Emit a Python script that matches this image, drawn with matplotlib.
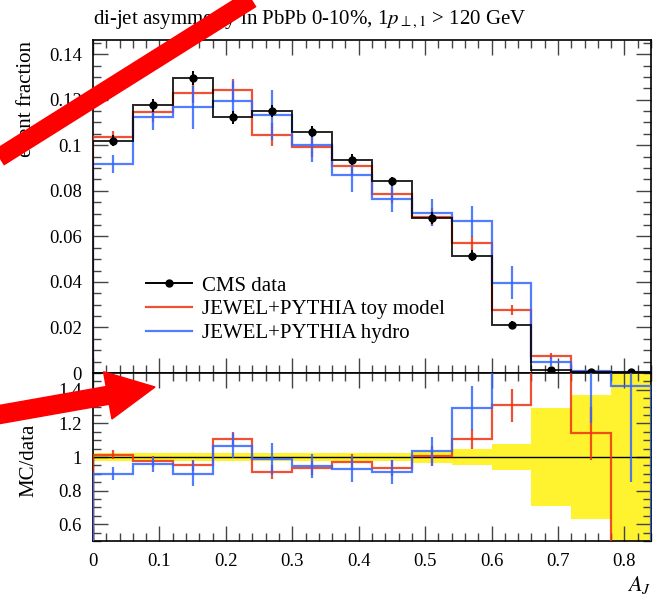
import numpy as np
import matplotlib
matplotlib.use("Agg")
import matplotlib.pyplot as plt
from matplotlib.ticker import MultipleLocator, FuncFormatter
from matplotlib.lines import Line2D
from matplotlib.patches import Polygon

# ---------------- data ----------------
bin_edges = [0.00, 0.06, 0.12, 0.18, 0.24, 0.30, 0.36, 0.42, 0.48, 0.54, 0.60, 0.66, 0.72, 0.78, 0.84]
data_vals = [0.1020, 0.1175, 0.1295, 0.1122, 0.1150, 0.1060, 0.0937, 0.0842, 0.0680, 0.0515, 0.0212, 0.0013, 0.0005, 0.0004]
data_errs = [0.0025, 0.0028, 0.0031, 0.0027, 0.0028, 0.0025, 0.0023, 0.0020, 0.0026, 0.0025, 0.0016, 0.00038, 0.000185, 0.00028]
toy_vals = [0.1034, 0.1144, 0.1230, 0.1241, 0.1047, 0.0992, 0.0909, 0.0788, 0.0684, 0.0570, 0.0277, 0.0075, 0.00057, 0.0]
toy_errs = [0.0027, 0.0040, 0.0045, 0.0050, 0.0050, 0.0045, 0.0042, 0.0040, 0.0040, 0.0031, 0.0021, 0.0015, 0.00008, 0.0]
hydro_vals = [0.0918, 0.1123, 0.1166, 0.1196, 0.1134, 0.1003, 0.0868, 0.0766, 0.0703, 0.0666, 0.0396, 0.0050, 0.0010, 0.00057]
hydro_errs = [0.0040, 0.0055, 0.0095, 0.0084, 0.0110, 0.0076, 0.0073, 0.0059, 0.0059, 0.0067, 0.0072, 0.0020, 0.0004, 0.00023]

labels = ["CMS data", "JEWEL+PYTHIA toy model", "JEWEL+PYTHIA hydro"]
title = r"di-jet asymmetry in PbPb 0-10%, 1$p_{\perp,1}$ > 120 GeV"
ylabel_main = "event fraction"
ylabel_ratio = "MC/data"
xlabel = r"$A_J$"

# ---------------- style ----------------
W, H = 666, 599
DPI = 100
RED = "#EE3311"
BLUE = "#3366FF"
YELLOW = "#FFF22E"
plt.rcParams["font.family"] = ["Liberation Serif", "DejaVu Serif"]
plt.rcParams["mathtext.fontset"] = "stix"
FS = 15
TFS = 13.5

edges = np.array(bin_edges)
centers = 0.5 * (edges[:-1] + edges[1:])
d = np.array(data_vals); de = np.array(data_errs)
t = np.array(toy_vals); te = np.array(toy_errs)
h = np.array(hydro_vals); he = np.array(hydro_errs)

fig = plt.figure(figsize=(W / DPI, H / DPI), dpi=DPI)

def px(x0, y0, x1, y1):
    return [x0 / W, 1 - y1 / H, (x1 - x0) / W, (y1 - y0) / H]

ax = fig.add_axes(px(93, 40, 651, 373))
axr = fig.add_axes(px(93, 373, 651, 541), sharex=ax)

lw = 1.6
# main panel
ax.stairs(t, edges, color=RED, lw=lw, alpha=0.85, zorder=3)
ax.errorbar(centers, t, yerr=te, fmt="none", ecolor=RED, elinewidth=lw, alpha=0.85, zorder=3)
ax.stairs(h, edges, color=BLUE, lw=lw, alpha=0.85, zorder=4)
ax.errorbar(centers, h, yerr=he, fmt="none", ecolor=BLUE, elinewidth=lw, alpha=0.85, zorder=4)
ax.stairs(d, edges, color="black", lw=1.4, alpha=0.85, zorder=5)
ax.errorbar(centers, d, yerr=de, fmt="o", color="black", ms=5, elinewidth=1.4, zorder=6)

ax.set_xlim(0, 0.84)
ax.set_ylim(0, 0.1462)

# ratio panel
rel = de / d
axr.stairs(1 + rel, edges, baseline=1 - rel, fill=True, color=YELLOW, lw=0, zorder=1)
axr.stairs(d / d, edges, color="black", lw=1.0, zorder=2)
axr.stairs(t / d, edges, color=RED, lw=lw, alpha=0.85, zorder=3)
axr.errorbar(centers, t / d, yerr=te / d, fmt="none", ecolor=RED, elinewidth=lw, alpha=0.85, zorder=3)
axr.stairs(h / d, edges, color=BLUE, lw=lw, alpha=0.85, zorder=4)
axr.errorbar(centers, h / d, yerr=he / d, fmt="none", ecolor=BLUE, elinewidth=lw, alpha=0.85, zorder=4)
axr.set_ylim(0.5, 1.5)

fmt = FuncFormatter(lambda v, p: "%g" % round(v, 4))
for a in (ax, axr):
    a.xaxis.set_major_locator(MultipleLocator(0.1))
    a.xaxis.set_minor_locator(MultipleLocator(0.02))
    a.tick_params(which="both", direction="in", top=True, right=True, width=1.0, labelsize=TFS,
                  color="#444444")
    a.tick_params(which="major", length=11)
    a.tick_params(which="minor", length=5.5)
    a.tick_params(axis="y", pad=8)
    a.tick_params(axis="x", pad=9)
    for s in a.spines.values():
        s.set_linewidth(1.2)
    a.yaxis.set_major_formatter(fmt)
    a.xaxis.set_major_formatter(fmt)
ax.yaxis.set_major_locator(MultipleLocator(0.02))
ax.yaxis.set_minor_locator(MultipleLocator(0.005))
axr.yaxis.set_major_locator(MultipleLocator(0.2))
axr.yaxis.set_minor_locator(MultipleLocator(0.05))
ax.tick_params(axis="x", labelbottom=False)

# legend
handles = [
    Line2D([], [], color="black", lw=1.4, marker="o", ms=5),
    Line2D([], [], color=RED, lw=lw, alpha=0.85),
    Line2D([], [], color=BLUE, lw=lw, alpha=0.85),
]
fig.legend(handles, labels, loc="upper left", bbox_to_anchor=(146 / W, 1 - 276 / H),
           frameon=False, fontsize=FS, handlelength=2.2, handletextpad=0.5,
           labelspacing=0.2, borderpad=0, borderaxespad=0)

# texts
fig.text(93 / W, 1 - 20 / H, title, fontsize=FS, ha="left", va="center")
fig.text(27 / W, 1 - 41 / H, ylabel_main, fontsize=FS, rotation=90, ha="center", va="top")
fig.text(29 / W, 1 - 460 / H, ylabel_ratio, fontsize=FS, rotation=90, ha="center", va="center")
fig.text(651 / W, 1 - 585 / H, xlabel, fontsize=FS + 1, ha="right", va="center")

# red annotation arrows (pixel layout, top-left origin)
def to_fig(pts):
    return [(x / W, 1 - y / H) for x, y in pts]

p0 = np.array([-20.0, 157 + 20 * 157 / 250]); p1 = np.array([270.0, 157 - 270 * 157 / 250])
fig.add_artist(Line2D([p0[0] / W, p1[0] / W], [1 - p0[1] / H, 1 - p1[1] / H],
                      color="#FF0000", lw=13.5, solid_capstyle="butt", transform=fig.transFigure, zorder=20))

tip = np.array([155.0, 387.0]); tail = np.array([-20.0, 418.0])
u = (tip - tail) / np.linalg.norm(tip - tail); n = np.array([-u[1], u[0]])
hl, hw, sw = 48.0, 24.0, 9.0
base = tip - u * hl
poly = [tail + n * sw, base + n * sw, base + n * hw, tip, base - n * hw, base - n * sw, tail - n * sw]
fig.add_artist(Polygon(to_fig(poly), closed=True, color="#FF0000", transform=fig.transFigure, zorder=20))

fig.savefig("out.png", dpi=DPI)
